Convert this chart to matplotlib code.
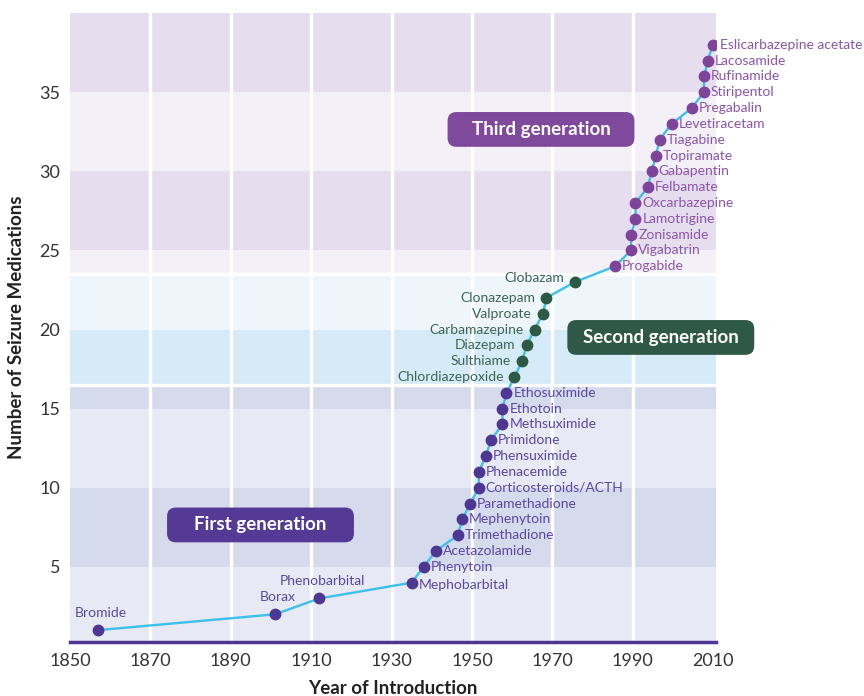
import numpy as np
import matplotlib
matplotlib.use('Agg')
import matplotlib.pyplot as plt
from matplotlib.patches import FancyBboxPatch

plt.rcParams['font.family'] = ['Lato', 'DejaVu Sans']

# drugs, in order of introduction (count = position in list)
drugs = ['Bromide', 'Borax', 'Phenobarbital', 'Mephobarbital', 'Phenytoin',
         'Acetazolamide', 'Trimethadione', 'Mephenytoin', 'Paramethadione',
         'Corticosteroids/ACTH', 'Phenacemide', 'Phensuximide', 'Primidone',
         'Methsuximide', 'Ethotoin', 'Ethosuximide',
         'Chlordiazepoxide', 'Sulthiame', 'Diazepam', 'Carbamazepine',
         'Valproate', 'Clonazepam', 'Clobazam',
         'Progabide', 'Vigabatrin', 'Zonisamide', 'Lamotrigine', 'Oxcarbazepine',
         'Felbamate', 'Gabapentin', 'Topiramate', 'Tiagabine', 'Levetiracetam',
         'Pregabalin', 'Stiripentol', 'Rufinamide', 'Lacosamide',
         'Eslicarbazepine acetate']
years = [1857, 1901, 1912, 1935, 1938,
         1941, 1946.5, 1947.6, 1949.6,
         1951.7, 1951.7, 1953.5, 1954.7,
         1957.6, 1957.6, 1958.6,
         1960.6, 1962.5, 1963.6, 1965.6,
         1967.7, 1968.5, 1975.6,
         1985.6, 1989.6, 1989.7, 1990.7, 1990.7,
         1993.8, 1994.7, 1995.8, 1996.7, 1999.7,
         2004.7, 2007.7, 2007.8, 2008.7,
         2009.9]
generation = [1] * 16 + [2] * 7 + [3] * 15
counts = np.arange(1, len(drugs) + 1)

gen_names = {1: 'First generation', 2: 'Second generation', 3: 'Third generation'}
# box centre (year, count)
gen_box_pos = {1: (1897.4, 7.65), 2: (1997.0, 19.5), 3: (1967.2, 32.65)}
gen_bounds = {1: (0, 16.5), 2: (16.5, 23.5), 3: (23.5, 41)}

dot_col = {1: '#4E3792', 2: '#2D5A45', 3: '#7E4499'}
lab_col = {1: '#5A47A1', 2: '#3F6453', 3: '#8A55AA'}
box_col = {1: '#553A95', 2: '#2F5947', 3: '#7F4A9B'}
band_light = {1: '#E7E9F5', 2: '#EEF6FC', 3: '#F3F0F7'}
band_dark = {1: '#D6DAED', 2: '#D5ECF8', 3: '#E6DEEE'}

fig = plt.figure(figsize=(8.64, 6.96), dpi=100)
ax = fig.add_axes([0.081, 0.0776, 0.748, 0.9035])
ax.set_xlim(1850, 2010.8)
ax.set_ylim(0.25, 40)

# background stripes, coloured by generation
for g, (lo, hi) in gen_bounds.items():
    for k in range(0, 40, 5):
        a, b = max(lo, k), min(hi, k + 5)
        if a >= b:
            continue
        c = band_dark[g] if (k // 5) % 2 == 1 else band_light[g]
        ax.axhspan(a, b, color=c, lw=0, zorder=0)

for x in range(1870, 2010, 20):
    ax.axvline(x, color='white', lw=2.4, zorder=1)
for y in (16.5, 23.5):
    ax.axhline(y, color='white', lw=2.4, zorder=1)

ax.plot(years, counts, color='#3CC0EC', lw=1.7, zorder=2)
for g in (1, 2, 3):
    idx = [i for i in range(len(drugs)) if generation[i] == g]
    ax.plot([years[i] for i in idx], [counts[i] for i in idx], 'o',
            color=dot_col[g], ms=7.5, zorder=3)

for i, name in enumerate(drugs):
    g = generation[i]
    if i < 3:
        ax.annotate(name, (years[i], counts[i]), xytext=(2, 8), textcoords='offset points',
                    ha='center', va='bottom', fontsize=10, color=lab_col[g])
    elif g == 2:
        dy = 3 if name == 'Clobazam' else 0
        ax.annotate(name, (years[i], counts[i]), xytext=(-8, dy), textcoords='offset points',
                    ha='right', va='center', fontsize=10, color=lab_col[g])
    else:
        dy = -2 if name == 'Mephobarbital' else 0
        ax.annotate(name, (years[i], counts[i]), xytext=(5, dy), textcoords='offset points',
                    ha='left', va='center', fontsize=10, color=lab_col[g])

# generation boxes (width in years, height in counts)
bw, bh = 46.5, 2.2
for g, (bx, by) in gen_box_pos.items():
    box = FancyBboxPatch((bx - bw / 2, by - bh / 2), bw, bh,
                         boxstyle='round,pad=0,rounding_size=2.2',
                         mutation_aspect=0.2544, fc=box_col[g], ec='none',
                         zorder=5, clip_on=False)
    ax.add_patch(box)
    ax.text(bx, by, gen_names[g], ha='center', va='center', color='white',
            fontsize=13.5, fontweight='bold', zorder=6)

for s in ('left', 'right', 'top'):
    ax.spines[s].set_visible(False)
ax.spines['bottom'].set_color('#4E3792')
ax.spines['bottom'].set_linewidth(2.5)
ax.spines['bottom'].set_zorder(4)

ax.set_xticks(range(1850, 2011, 20))
ax.set_yticks(range(5, 36, 5))
ax.tick_params(length=0, labelsize=13, colors='#333333')
ax.tick_params(axis='x', pad=8)
ax.tick_params(axis='y', pad=7)
ax.set_ylabel('Number of Seizure Medications', fontsize=13.5, fontweight='bold', color='#222222', labelpad=10)
ax.set_xlabel('Year of Introduction', fontsize=13.5, fontweight='bold', color='#222222', labelpad=8)

fig.savefig('out.png', dpi=100)
